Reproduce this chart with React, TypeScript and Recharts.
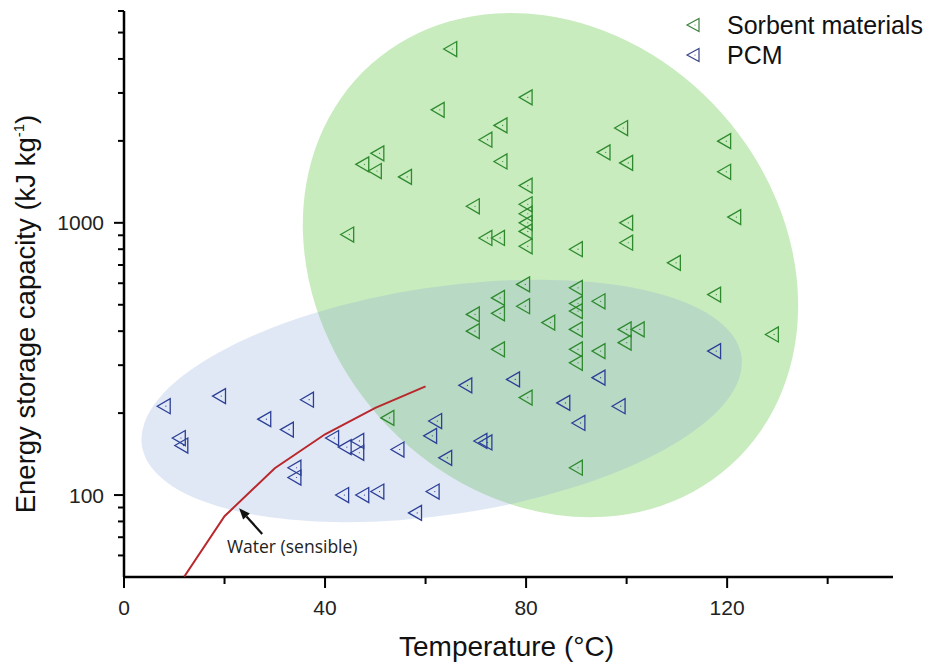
import React from 'react';
import { ScatterChart, Scatter, XAxis, YAxis, ReferenceArea, ReferenceLine, Label } from 'recharts';

// Sorbent materials: temperature (°C) / energy storage capacity (kJ/kg)
const sorbentTemp = [
  65, 62.5, 80, 75, 72, 75, 47.5, 50.5, 50, 56, 80, 99, 95.5, 100, 119.5, 119.5, 121.5, 100,
  100, 90, 109.5, 69.5, 80, 80, 80, 80, 80, 72, 74.5, 44.5, 79.5, 74.5, 74.5, 79.5, 69.5, 69.5,
  84.5, 90, 90, 90, 90, 90, 90, 94.5, 94.5, 99.7, 102.3, 99.7, 117.5, 129, 74.5, 80, 52.5, 90,
];
const sorbentCap = [
  4350, 2600, 2890, 2280, 2020, 1680, 1640, 1800, 1550, 1475, 1370, 2230, 1815, 1660, 1995, 1540, 1050, 1000,
  845, 800, 713, 1150, 1170, 1080, 1000, 930, 820, 880, 880, 906, 594, 530, 465, 494, 461, 400,
  430, 577, 505, 474, 406, 343, 306, 515, 338, 406, 406, 363, 545, 389, 343, 228, 192, 126,
];

// PCM
const pcmTemp = [
  8, 19, 36.5, 28, 32.5, 11, 11.5, 34, 34, 41.5, 44, 46.5, 46.5, 43.5, 47.5, 50.5,
  54.5, 62, 61, 61.5, 58, 64, 68, 71, 72, 77.5, 87.5, 90.5, 94.5, 98.5, 117.5,
];
const pcmCap = [
  212, 231, 224, 190, 174, 162, 152, 126, 116, 162, 150, 158, 143, 100, 100, 103,
  147, 187, 165, 103, 86, 137, 253, 158, 156, 266, 218, 184, 270, 212, 338,
];

// Water (sensible heat)
const waterTemp = [12, 20, 30, 40, 50, 60];
const waterCap = [50.2, 83.6, 125.4, 167.2, 209, 250.8];

const xTicks = [0, 20, 40, 60, 80, 100, 120, 140];
const xLabelled = [0, 40, 80, 120];
const yTicks = [60, 70, 80, 90, 100, 200, 300, 400, 500, 600, 700, 800, 900, 1000, 2000, 3000, 4000, 5000, 6000];
const yLabelled = [100, 1000];

// shaded regions (unrotated bounds in data units, tilt in degrees)
const sorbentRegion = { x1: 39.3, x2: 130.4, y1: 71.7, y2: 6823, tilt: -41.8 };
const pcmRegion = { x1: 2.9, x2: 123.5, y1: 84.6, y2: 581, tilt: -8.5 };

const sorbentData = sorbentTemp.map((t, i) => ({ t, e: sorbentCap[i] }));
const pcmData = pcmTemp.map((t, i) => ({ t, e: pcmCap[i] }));
const waterData = waterTemp.map((t, i) => ({ t, e: waterCap[i] }));

const FONT = '"Liberation Sans", Arial, sans-serif';
const GREEN = '#2f8a2f';
const BLUE = '#2b3f96';

const triangle = (color: string, s = 1) => (props: any) => {
  const { cx, cy } = props;
  if (cx == null || cy == null) return <g />;
  const pts = `${cx - 7 * s},${cy} ${cx + 6 * s},${cy - 7.5 * s} ${cx + 6 * s},${cy + 7.5 * s}`;
  return (
    <g>
      <polygon points={pts} fill="none" stroke={color} strokeWidth={1.3} />
      <circle cx={cx + 1.7 * s} cy={cy} r={0.6} fill={color} />
    </g>
  );
};

const ellipseShape = (fill: string, tilt: number) => (props: any) => {
  const { x, y, width, height } = props;
  const cx = x + width / 2;
  const cy = y + height / 2;
  return (
    <ellipse cx={cx} cy={cy} rx={width / 2} ry={height / 2} fill={fill}
      transform={`rotate(${tilt} ${cx} ${cy})`} />
  );
};

const YTick = (props: any) => {
  const { x, y, payload } = props;
  const major = yLabelled.includes(payload.value);
  return (
    <g>
      <line x1={x - (major ? 10 : 6)} x2={x} y1={y} y2={y} stroke="#000" strokeWidth={2} />
      {major && (
        <text x={x - 20} y={y + 7.5} textAnchor="end" fontSize={21} fontFamily={FONT} fill="#222">
          {payload.value}
        </text>
      )}
    </g>
  );
};

const XTick = (props: any) => {
  const { x, y, payload } = props;
  const major = xLabelled.includes(payload.value);
  return (
    <g>
      <line x1={x} x2={x} y1={y} y2={y + (major ? 11 : 7)} stroke="#000" strokeWidth={2} />
      {major && (
        <text x={x} y={y + 38} textAnchor="middle" fontSize={21} fontFamily={FONT} fill="#222">
          {payload.value}
        </text>
      )}
    </g>
  );
};

const YTitle = ({ viewBox }: any) => {
  const cx = viewBox.x + 35;
  const cy = viewBox.y + viewBox.height / 2 + 20;
  return (
    <text x={cx} y={cy} transform={`rotate(-90 ${cx} ${cy})`} textAnchor="middle"
      fontSize={27.5} fontFamily={FONT} fill="#111">
      Energy storage capacity (kJ kg<tspan dy={-11} fontSize={15}>-1</tspan>
      <tspan dy={11}>)</tspan>
    </text>
  );
};

const XTitle = ({ viewBox }: any) => (
  <text x={viewBox.x + viewBox.width / 2 - 2} y={viewBox.y + 79} textAnchor="middle"
    fontSize={28} fontFamily={FONT} fill="#111">
    Temperature (°C)
  </text>
);

const WaterArrow = (p: any) => {
  const { x1, y1, x2, y2 } = p;
  const a = Math.atan2(y2 - y1, x2 - x1);
  const bx = x2 - 11 * Math.cos(a);
  const by = y2 - 11 * Math.sin(a);
  const ox = -Math.sin(a) * 4.5;
  const oy = Math.cos(a) * 4.5;
  return (
    <g>
      <line x1={x1} y1={y1} x2={bx} y2={by} stroke="#111" strokeWidth={2.2} />
      <polygon points={`${x2},${y2} ${bx + ox},${by + oy} ${bx - ox},${by - oy}`} fill="#111" />
      <text x={x1 + 30} y={y1 + 19} textAnchor="middle" fontSize={17.5}
        fontFamily='"Open Sans", sans-serif' fill="#222">
        Water (sensible)
      </text>
    </g>
  );
};

const LegendRow = ({ color, label }: { color: string; label: string }) => (
  <div style={{ display: 'flex', alignItems: 'center', height: 30, whiteSpace: 'nowrap' }}>
    <svg width={20} height={20} style={{ marginRight: 23, flex: 'none' }}>
      <polygon points="3,10 15,3.5 15,16.5" fill="none" stroke={color} strokeWidth={1.2} />
      <circle cx={11} cy={10} r={0.6} fill={color} />
    </svg>
    <span style={{ fontFamily: FONT, fontSize: 25, color: '#111' }}>{label}</span>
  </div>
);

export default function App() {
  return (
    <div style={{ position: 'relative', width: 927, height: 664, overflow: 'hidden' }}>
      <style>{'html,body{margin:0;padding:0;overflow:hidden}'}</style>
      <ScatterChart width={927} height={664} margin={{ top: 11, right: 34, bottom: 0, left: 0 }}>
        <XAxis type="number" dataKey="t" domain={[0, 153]} ticks={xTicks} interval={0}
          allowDataOverflow height={87} tickSize={0} tickMargin={0} tick={<XTick />}
          axisLine={{ stroke: '#000', strokeWidth: 2.5 }}>
          <Label content={<XTitle />} />
        </XAxis>
        <YAxis type="number" dataKey="e" scale="log" domain={[50, 6000]} ticks={yTicks} interval={0}
          allowDataOverflow width={124} tickSize={0} tickMargin={0} tick={<YTick />}
          axisLine={{ stroke: '#000', strokeWidth: 2.5 }}>
          <Label content={<YTitle />} />
        </YAxis>
        <ReferenceArea x1={sorbentRegion.x1} x2={sorbentRegion.x2} y1={sorbentRegion.y1} y2={sorbentRegion.y2}
          ifOverflow="visible" shape={ellipseShape('#c8ecbe', sorbentRegion.tilt)} />
        <ReferenceArea x1={pcmRegion.x1} x2={pcmRegion.x2} y1={pcmRegion.y1} y2={pcmRegion.y2}
          ifOverflow="visible" shape={ellipseShape('rgba(140,165,215,0.26)', pcmRegion.tilt)} />
        <Scatter name="Water (sensible)" data={waterData} isAnimationActive={false}
          line={{ stroke: '#b8282c', strokeWidth: 2 }} lineType="joint" shape={() => <g />} />
        <Scatter name="Sorbent materials" data={sorbentData} isAnimationActive={false} shape={triangle(GREEN)} />
        <Scatter name="PCM" data={pcmData} isAnimationActive={false} shape={triangle(BLUE)} />
        <ReferenceLine segment={[{ x: 27.5, y: 72 }, { x: 22.9, y: 89.4 }]} shape={<WaterArrow />} />
      </ScatterChart>
      <div style={{ position: 'absolute', left: 684, top: 10 }}>
        <LegendRow color="#3f7f3f" label="Sorbent materials" />
        <LegendRow color="#3a4585" label="PCM" />
      </div>
    </div>
  );
}
